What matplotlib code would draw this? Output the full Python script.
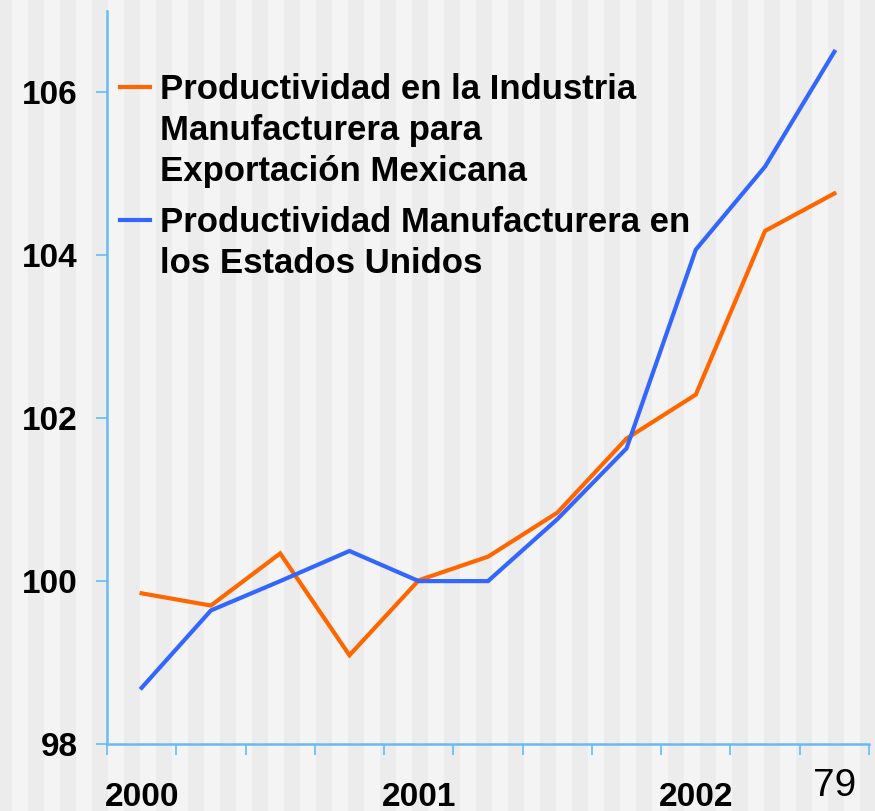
import numpy as np
import matplotlib.pyplot as plt

# quarterly index values, 2000 Q1 .. 2002 Q3
quarters = np.arange(11)
mexico = [99.85, 99.70, 100.34, 99.09, 100.01, 100.30, 100.84, 101.75, 102.29, 104.30, 104.76]
usa = [98.69, 99.64, 100.00, 100.37, 100.00, 100.00, 100.76, 101.63, 104.07, 105.09, 106.50]
year_pos = [0, 4, 8]
year_labels = ["2000", "2001", "2002"]
label_mx = "Productividad en la Industria\nManufacturera para\nExportación Mexicana"
label_us = "Productividad Manufacturera en\nlos Estados Unidos"

plt.rcParams['font.family'] = ['Liberation Sans', 'DejaVu Sans']
axis_col = "#66bbf5"

fig = plt.figure(figsize=(8.75, 8.11), dpi=100)

# striped backdrop
bg = fig.add_axes([0, 0, 1, 1], zorder=-1)
bg.set_xlim(0, 875)
bg.set_ylim(0, 811)
bg.set_facecolor("#ececec")
for x0 in np.arange(12, 875, 32):
    bg.axvspan(x0, x0 + 16, color="#f4f4f4", lw=0)
for s in bg.spines.values():
    s.set_visible(False)
bg.set_xticks([])
bg.set_yticks([])

ax = fig.add_axes([107 / 875, 67 / 811, 762 / 875, 733 / 811])
ax.set_facecolor("none")
ax.plot(quarters, mexico, color="#ff6600", lw=3, label=label_mx, solid_joinstyle="miter")
ax.plot(quarters, usa, color="#3366ff", lw=3, label=label_us, solid_joinstyle="miter")

ax.set_xlim(-0.5, 10.5)
ax.set_ylim(98, 107)
ax.set_yticks([98, 100, 102, 104, 106])
ax.set_xticks(year_pos)
ax.set_xticklabels(year_labels)
ax.set_xticks(np.arange(-0.5, 11, 1), minor=True)
ax.tick_params(axis="x", which="major", length=0, pad=27, labelsize=24)
ax.tick_params(axis="x", which="minor", length=8, width=1.2, color=axis_col, direction="out")
ax.tick_params(axis="y", length=8, width=1.2, color=axis_col, direction="out", pad=13, labelsize=24)
for lab in ax.get_xticklabels() + ax.get_yticklabels():
    lab.set_fontweight("bold")

for side in ["top", "right"]:
    ax.spines[side].set_visible(False)
for side in ["left", "bottom"]:
    ax.spines[side].set_color(axis_col)
    ax.spines[side].set_linewidth(1.8)

leg = ax.legend(loc="upper left", bbox_to_anchor=(120 / 875, 1 - 73 / 811),
                bbox_transform=fig.transFigure, frameon=False, fontsize=25,
                handlelength=0.85, handleheight=1.0, handletextpad=0.3,
                labelspacing=0.54, borderpad=0, borderaxespad=0)
for t in leg.get_texts():
    t.set_fontweight("bold")
    t.set_linespacing(1.3)
for col in leg._legend_handle_box.get_children():
    for item in col.get_children():
        item.align = "top"

fig.text(835 / 875, 1 - 786 / 811, "79", fontsize=28, ha="center", va="center")

fig.savefig("out.png", dpi=100)
